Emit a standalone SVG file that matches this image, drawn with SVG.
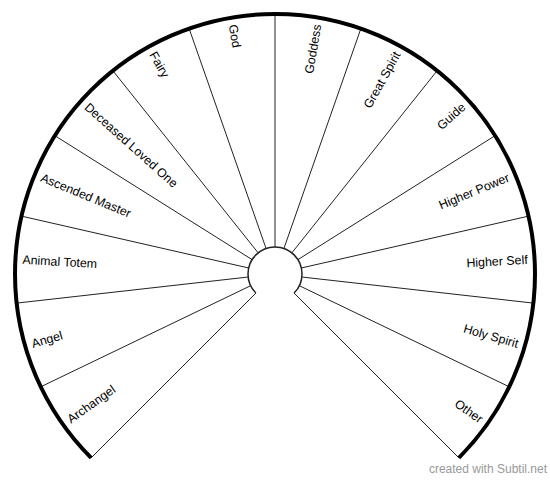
<svg xmlns="http://www.w3.org/2000/svg" width="550" height="482" viewBox="0 0 550 482">
<style>
.lbl{font-family:"Liberation Sans",Arial,sans-serif;font-size:12.4px;fill:#000}
.l{text-anchor:start}
.r{text-anchor:end}
.spoke{stroke:#222;stroke-width:1;fill:none}
.wm{font-family:"Liberation Sans",Arial,sans-serif;font-size:12px;fill:#999;text-anchor:end}
</style>
<rect width="550" height="482" fill="#fff"/>
<g id="spokes">
<line class="spoke" x1="255.91" y1="293.09" x2="91.15" y2="457.85"/>
<line class="spoke" x1="250.67" y1="285.71" x2="40.75" y2="386.81"/>
<line class="spoke" x1="248.17" y1="277.02" x2="16.64" y2="303.11"/>
<line class="spoke" x1="248.68" y1="267.99" x2="21.52" y2="216.14"/>
<line class="spoke" x1="252.14" y1="259.64" x2="54.85" y2="135.67"/>
<line class="spoke" x1="258.17" y1="252.89" x2="112.89" y2="70.72"/>
<line class="spoke" x1="266.08" y1="248.52" x2="189.13" y2="28.59"/>
<line class="spoke" x1="275" y1="247" x2="275" y2="14"/>
<line class="spoke" x1="283.92" y1="248.52" x2="360.87" y2="28.59"/>
<line class="spoke" x1="291.83" y1="252.89" x2="437.11" y2="70.72"/>
<line class="spoke" x1="297.86" y1="259.64" x2="495.15" y2="135.67"/>
<line class="spoke" x1="301.32" y1="267.99" x2="528.48" y2="216.14"/>
<line class="spoke" x1="301.83" y1="277.02" x2="533.36" y2="303.11"/>
<line class="spoke" x1="299.33" y1="285.71" x2="509.25" y2="386.81"/>
<line class="spoke" x1="294.09" y1="293.09" x2="458.85" y2="457.85"/>
</g>
<g id="rim">
<path d="M 91.15 457.85 A 260 260 0 1 1 458.85 457.85" fill="none" stroke="#000" stroke-width="4"/>
<path d="M 255.91 293.09 A 27 27 0 1 1 294.09 293.09" fill="none" stroke="#222" stroke-width="1.5"/>
</g>
<g id="archangel"><text class="lbl l" x="22" y="274" dy="4" transform="rotate(-35.36 275 274)">Archangel</text></g>
<g id="angel"><text class="lbl l" x="22" y="274" dy="4" transform="rotate(-16.07 275 274)">Angel</text></g>
<g id="animal-totem"><text class="lbl l" x="22" y="274" dy="4" transform="rotate(3.21 275 274)">Animal Totem</text></g>
<g id="ascended-master"><text class="lbl l" x="22" y="274" dy="4" transform="rotate(22.5 275 274)">Ascended Master</text></g>
<g id="deceased-loved-one"><text class="lbl l" x="22" y="274" dy="4" transform="rotate(41.79 275 274)">Deceased Loved One</text></g>
<g id="fairy"><text class="lbl l" x="22" y="274" dy="4" transform="rotate(61.07 275 274)">Fairy</text></g>
<g id="god"><text class="lbl l" x="22" y="274" dy="4" transform="rotate(80.36 275 274)">God</text></g>
<g id="goddess"><text class="lbl r" x="528" y="274" dy="4" transform="rotate(-80.36 275 274)">Goddess</text></g>
<g id="great-spirit"><text class="lbl r" x="528" y="274" dy="4" transform="rotate(-61.07 275 274)">Great Spirit</text></g>
<g id="guide"><text class="lbl r" x="528" y="274" dy="4" transform="rotate(-41.79 275 274)">Guide</text></g>
<g id="higher-power"><text class="lbl r" x="528" y="274" dy="4" transform="rotate(-22.5 275 274)">Higher Power</text></g>
<g id="higher-self"><text class="lbl r" x="528" y="274" dy="4" transform="rotate(-3.21 275 274)">Higher Self</text></g>
<g id="holy-spirit"><text class="lbl r" x="528" y="274" dy="4" transform="rotate(16.07 275 274)">Holy Spirit</text></g>
<g id="other"><text class="lbl r" x="528" y="274" dy="4" transform="rotate(35.36 275 274)">Other</text></g>
<text class="wm" x="547" y="473">created with Subtil.net</text>
</svg>
